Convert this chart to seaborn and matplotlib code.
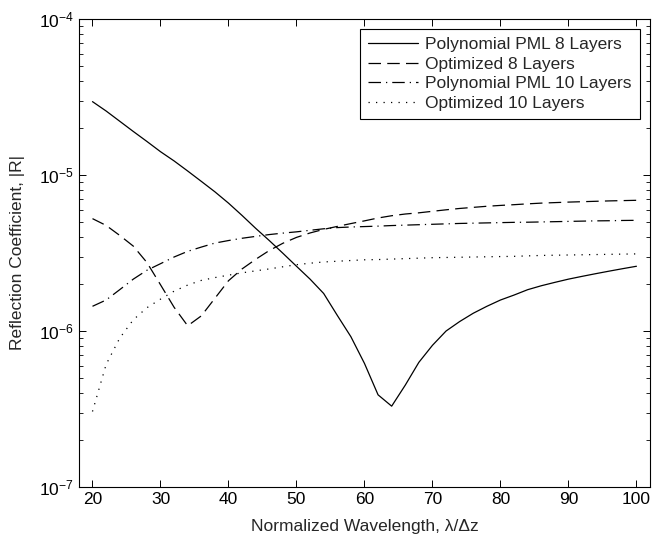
import numpy as np
import pandas as pd
import matplotlib
matplotlib.use("Agg")
import matplotlib.pyplot as plt
import seaborn as sns

# ── data (every 2 units of λ/Δz) ────────────────────────────────────────────
wavelength = list(range(20, 101, 2))

poly_pml_8 = [
    2.95e-5, 2.57e-5, 2.21e-5, 1.90e-5, 1.64e-5, 1.41e-5, 1.23e-5, 1.06e-5,
    9.1e-6, 7.8e-6, 6.6e-6, 5.5e-6, 4.55e-6, 3.8e-6, 3.15e-6, 2.6e-6,
    2.15e-6, 1.74e-6, 1.26e-6, 9.2e-7, 6.2e-7, 3.9e-7, 3.3e-7, 4.5e-7,
    6.3e-7, 8.1e-7, 1.0e-6, 1.15e-6, 1.3e-6, 1.44e-6, 1.58e-6, 1.7e-6,
    1.84e-6, 1.95e-6, 2.05e-6, 2.15e-6, 2.24e-6, 2.33e-6, 2.42e-6, 2.51e-6,
    2.6e-6,
]
optimized_8 = [
    5.25e-6, 4.75e-6, 4.1e-6, 3.5e-6, 2.75e-6, 1.98e-6, 1.42e-6, 1.08e-6,
    1.25e-6, 1.62e-6, 2.1e-6, 2.5e-6, 2.88e-6, 3.28e-6, 3.65e-6, 3.98e-6,
    4.25e-6, 4.48e-6, 4.68e-6, 4.88e-6, 5.08e-6, 5.3e-6, 5.48e-6, 5.62e-6,
    5.72e-6, 5.85e-6, 5.98e-6, 6.1e-6, 6.2e-6, 6.3e-6, 6.38e-6, 6.45e-6,
    6.53e-6, 6.6e-6, 6.65e-6, 6.7e-6, 6.74e-6, 6.78e-6, 6.82e-6, 6.85e-6,
    6.88e-6,
]
poly_pml_10 = [
    1.44e-6, 1.58e-6, 1.84e-6, 2.15e-6, 2.45e-6, 2.7e-6, 2.98e-6, 3.24e-6,
    3.45e-6, 3.66e-6, 3.8e-6, 3.93e-6, 4.04e-6, 4.15e-6, 4.24e-6, 4.32e-6,
    4.42e-6, 4.52e-6, 4.6e-6, 4.64e-6, 4.67e-6, 4.7e-6, 4.74e-6, 4.77e-6,
    4.8e-6, 4.83e-6, 4.86e-6, 4.89e-6, 4.91e-6, 4.93e-6, 4.95e-6, 4.97e-6,
    4.98e-6, 5.0e-6, 5.02e-6, 5.04e-6, 5.06e-6, 5.08e-6, 5.09e-6, 5.11e-6,
    5.12e-6,
]
optimized_10 = [
    3.05e-7, 6.1e-7, 9.0e-7, 1.18e-6, 1.41e-6, 1.6e-6, 1.8e-6, 1.97e-6,
    2.11e-6, 2.2e-6, 2.28e-6, 2.36e-6, 2.43e-6, 2.5e-6, 2.58e-6, 2.66e-6,
    2.72e-6, 2.77e-6, 2.8e-6, 2.83e-6, 2.86e-6, 2.87e-6, 2.89e-6, 2.91e-6,
    2.93e-6, 2.95e-6, 2.96e-6, 2.97e-6, 2.98e-6, 2.99e-6, 3.0e-6, 3.01e-6,
    3.03e-6, 3.05e-6, 3.06e-6, 3.07e-6, 3.08e-6, 3.09e-6, 3.1e-6, 3.11e-6,
    3.12e-6,
]
labels = ["Polynomial PML 8 Layers", "Optimized 8 Layers",
          "Polynomial PML 10 Layers", "Optimized 10 Layers"]
x_ticks = [20, 30, 40, 50, 60, 70, 80, 90, 100]

# ── style ───────────────────────────────────────────────────────────────────
sns.set_style("ticks")
plt.rcParams["font.family"] = ["Liberation Sans", "DejaVu Sans"]
plt.rcParams["mathtext.fontset"] = "custom"
plt.rcParams["mathtext.rm"] = "Liberation Sans"
plt.rcParams["mathtext.it"] = "Liberation Sans:italic"

FS = 12.5
STYLES = ["-", (0, (10, 5)), (0, (10, 4, 1, 4)), (0, (1, 5))]

fig, ax = plt.subplots(figsize=(6.52, 5.40), dpi=100)
fig.subplots_adjust(left=0.121, right=0.997, bottom=0.098, top=0.965)

for series, lab, ls in zip([poly_pml_8, optimized_8, poly_pml_10, optimized_10],
                           labels, STYLES):
    sns.lineplot(x=wavelength, y=series, ax=ax, color="black",
                 linewidth=0.9, linestyle=ls, label=lab)

ax.set_yscale("log")
ax.set_ylim(1e-7, 1e-4)
ax.set_xlim(18, 102)
ax.set_xticks(x_ticks)
ax.set_xticklabels([str(t) for t in x_ticks])
ax.tick_params(which="both", direction="in", top=True, right=True,
               labelsize=FS, colors="black")
ax.tick_params(which="major", length=5, width=0.7)
ax.tick_params(which="minor", length=3, width=0.6)
for sp in ax.spines.values():
    sp.set_visible(True)
    sp.set_linewidth(0.8)
    sp.set_color("black")

ax.set_xlabel("Normalized Wavelength, λ/Δz", fontsize=FS, labelpad=9)
ax.set_ylabel("Reflection Coefficient, |R|", fontsize=FS, labelpad=10)

leg = ax.legend(loc="upper right", fontsize=FS, frameon=True, fancybox=False,
                edgecolor="black", framealpha=1, handlelength=2.9,
                borderpad=0.45, labelspacing=0.25, handletextpad=0.4,
                borderaxespad=0.6)
leg.get_frame().set_linewidth(0.8)

plt.savefig("out.png", dpi=100)
plt.close()
